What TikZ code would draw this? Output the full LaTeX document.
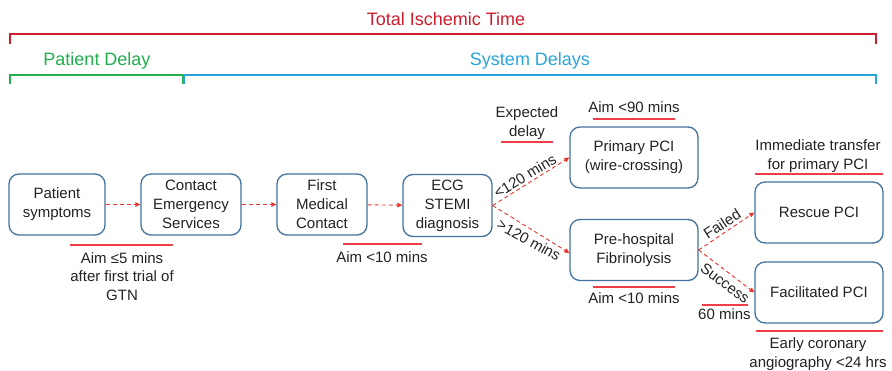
\documentclass[tikz,border=0pt]{standalone}
\usepackage{fontspec}
\setmainfont{Liberation Sans}
\usetikzlibrary{arrows.meta}

\definecolor{boxblue}{HTML}{41719C}
\definecolor{flowred}{HTML}{E8322D}
\definecolor{ruleRed}{HTML}{EC3F47}
\definecolor{totalred}{HTML}{CC1F2D}
\definecolor{patgreen}{HTML}{21AE4E}
\definecolor{sysblue}{HTML}{2AA4DC}
\definecolor{txt}{HTML}{222222}

\tikzset{
  stepbox/.style={draw=boxblue, line width=1.3pt, rounded corners=10pt,
    align=center, inner sep=0pt, text=txt,
    font=\fontsize{15}{19}\selectfont},
  flow/.style={draw=flowred, line width=0.9pt, dash pattern=on 4pt off 3pt,
    -{Triangle[length=5pt,width=4.5pt]}},
  lbl/.style={align=center, inner sep=0pt, text=txt,
    font=\fontsize{15}{18.5}\selectfont},
  aimrule/.style={draw=ruleRed, line width=1.3pt},
  head/.style={inner sep=0pt, font=\fontsize{18}{22}\selectfont},
  bracket/.style={line width=2pt}
}

\begin{document}
\begin{tikzpicture}[x=1pt, y=-1pt]
\useasboundingbox (0,0) rectangle (892,370);

% time spans
\node[head, text=totalred, anchor=base] (total) at (446,25) {Total Ischemic Time};
\draw[bracket, draw=totalred] (10,44) -- (10,34) -- (876,34) -- (876,44);
\node[head, text=patgreen, anchor=base] (patdelay) at (97,65) {Patient Delay};
\draw[bracket, draw=patgreen] (10,84) -- (10,75) -- (183,75) -- (183,84);
\node[head, text=sysblue, anchor=base] (sysdelay) at (530,65) {System Delays};
\draw[bracket, draw=sysblue] (184,84) -- (184,75) -- (876,75) -- (876,84);

% steps
\node[stepbox, minimum width=96pt, minimum height=61pt] (ps) at (57,204.5) {Patient\\symptoms};
\node[stepbox, minimum width=100pt, minimum height=61pt] (ces) at (191,204.5) {Contact\\Emergency\\Services};
\node[stepbox, minimum width=90pt, minimum height=61pt] (fmc) at (322,204.5) {First\\Medical\\Contact};
\node[stepbox, minimum width=89pt, minimum height=62pt] (ecg) at (447.5,205.5) {ECG\\STEMI\\diagnosis};
\node[stepbox, minimum width=128pt, minimum height=61pt] (ppci) at (634,157.5) {Primary PCI\\(wire-crossing)};
\node[stepbox, minimum width=128pt, minimum height=61pt] (fib) at (634,250) {Pre-hospital\\Fibrinolysis};
\node[stepbox, minimum width=128pt, minimum height=61pt] (rescue) at (819,212.5) {Rescue PCI};
\node[stepbox, minimum width=128pt, minimum height=61pt] (facil) at (819,292.5) {Facilitated PCI};

% connectors
\draw[flow] (ps) -- (ces);
\draw[flow] (ces) -- (fmc);
\draw[flow] (fmc) -- (ecg);
\draw[flow] (ecg.east) -- (ppci.west);
\draw[flow] (ecg.east) -- ([yshift=-3pt]fib.west);
\draw[flow] (fib.east) -- (rescue.west);
\draw[flow] (fib.east) -- (facil.west);

% branch labels
\node[lbl, rotate=31] (lt120) at (525,176) {<120 mins};
\node[lbl, rotate=-29] (gt120) at (529,240) {>120 mins};
\node[lbl, rotate=33] (failed) at (722,224) {Failed};
\node[lbl, rotate=-37] (success) at (725,283) {Success};

% targets
\draw[aimrule] (70,245) -- (173,245);
\node[lbl, anchor=north] (aim5) at (122,252) {Aim ≤5 mins\\after first trial of\\GTN};
\draw[aimrule] (343,244) -- (422,244);
\node[lbl, anchor=base] (aim10a) at (382,262) {Aim <10 mins};
\node[lbl, anchor=north] (expect) at (527,106.5) {Expected\\delay};
\draw[aimrule] (501,142) -- (553,142);
\node[lbl, anchor=base] (aim90) at (634,112) {Aim <90 mins};
\draw[aimrule] (593,119) -- (675,119);
\draw[aimrule] (593,287) -- (675,287);
\node[lbl, anchor=base] (aim10b) at (634,303) {Aim <10 mins};
\node[lbl, anchor=north] (transfer) at (818,139.5) {Immediate transfer\\for primary PCI};
\draw[aimrule] (755,174) -- (883,174);
\draw[aimrule] (702,305) -- (748,305);
\node[lbl, anchor=base] (sixty) at (724.5,319) {60 mins};
\draw[aimrule] (756,331) -- (883,331);
\node[lbl, anchor=north] (early) at (818,337.5) {Early coronary\\angiography <24 hrs};
\end{tikzpicture}
\end{document}
